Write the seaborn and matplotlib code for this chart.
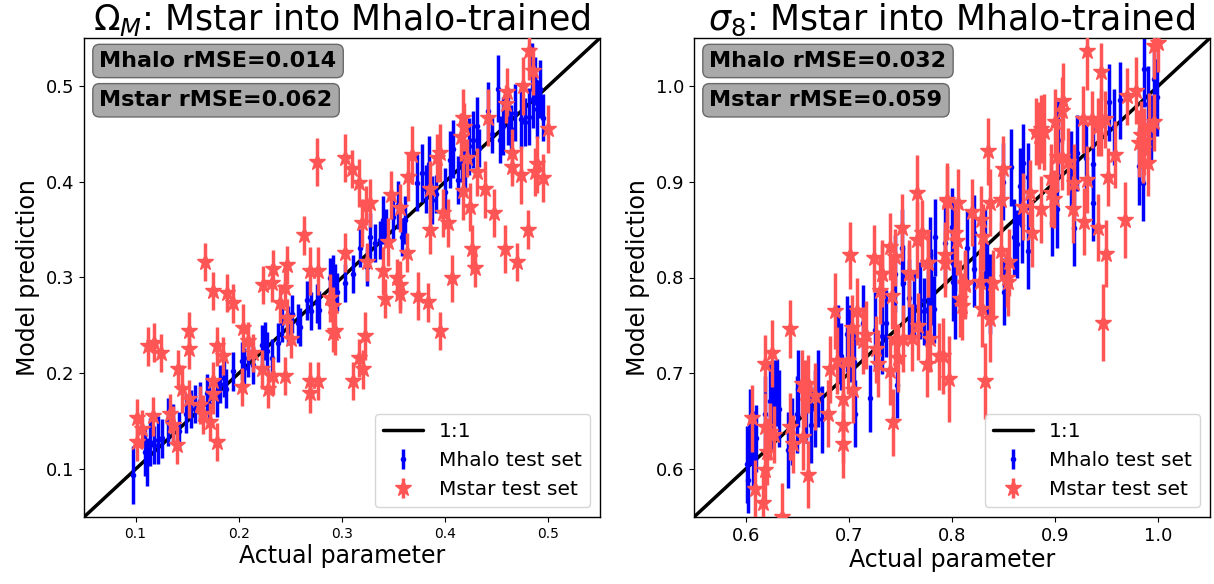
import matplotlib
matplotlib.use("Agg")
import matplotlib.pyplot as plt
import seaborn as sns

# (actual, predicted, error)
om_halo = [
    (0.097, 0.094, 0.03), (0.109, 0.118, 0.025), (0.111, 0.107, 0.025), (0.114, 0.128, 0.025), (0.118, 0.125, 0.02),
    (0.122, 0.130, 0.025), (0.126, 0.132, 0.02), (0.131, 0.149, 0.025), (0.136, 0.148, 0.02), (0.142, 0.140, 0.02),
    (0.149, 0.158, 0.02), (0.154, 0.163, 0.02), (0.158, 0.168, 0.02), (0.162, 0.171, 0.02), (0.169, 0.179, 0.02),
    (0.171, 0.168, 0.02), (0.179, 0.174, 0.02), (0.182, 0.189, 0.02), (0.186, 0.195, 0.02), (0.188, 0.184, 0.02),
    (0.194, 0.202, 0.02), (0.203, 0.213, 0.02), (0.205, 0.206, 0.02), (0.209, 0.216, 0.02), (0.214, 0.209, 0.02),
    (0.222, 0.230, 0.02), (0.225, 0.234, 0.02), (0.227, 0.223, 0.02), (0.232, 0.216, 0.02), (0.238, 0.232, 0.02),
    (0.242, 0.253, 0.02), (0.248, 0.250, 0.02), (0.252, 0.262, 0.02), (0.257, 0.252, 0.02), (0.259, 0.248, 0.02),
    (0.266, 0.276, 0.02), (0.270, 0.265, 0.02), (0.276, 0.273, 0.02), (0.278, 0.266, 0.02), (0.288, 0.300, 0.02),
    (0.290, 0.288, 0.02), (0.293, 0.294, 0.02), (0.295, 0.285, 0.02), (0.291, 0.304, 0.02), (0.303, 0.294, 0.02),
    (0.311, 0.304, 0.02), (0.317, 0.331, 0.02), (0.324, 0.311, 0.02), (0.327, 0.342, 0.025), (0.332, 0.336, 0.02),
    (0.337, 0.339, 0.02), (0.340, 0.360, 0.025), (0.343, 0.352, 0.02), (0.349, 0.363, 0.025), (0.354, 0.376, 0.025),
    (0.358, 0.342, 0.02), (0.361, 0.360, 0.025), (0.373, 0.399, 0.03), (0.378, 0.409, 0.03), (0.381, 0.392, 0.025),
    (0.384, 0.418, 0.03), (0.387, 0.381, 0.025), (0.391, 0.387, 0.02), (0.400, 0.389, 0.025), (0.405, 0.423, 0.03),
    (0.408, 0.434, 0.03), (0.412, 0.402, 0.025), (0.416, 0.420, 0.02), (0.419, 0.416, 0.025), (0.423, 0.437, 0.03),
    (0.427, 0.444, 0.03), (0.431, 0.458, 0.03), (0.433, 0.435, 0.02), (0.441, 0.474, 0.03), (0.445, 0.450, 0.02),
    (0.451, 0.497, 0.035), (0.453, 0.444, 0.025), (0.456, 0.458, 0.03), (0.461, 0.468, 0.03), (0.464, 0.455, 0.025),
    (0.468, 0.472, 0.03), (0.473, 0.465, 0.03), (0.477, 0.462, 0.025), (0.481, 0.468, 0.03), (0.484, 0.520, 0.025),
    (0.485, 0.486, 0.03), (0.489, 0.476, 0.03), (0.492, 0.497, 0.03), (0.495, 0.467, 0.025), (0.487, 0.505, 0.025),
]

om_star = [
    (0.481, 0.536, 0.03), (0.485, 0.516, 0.025), (0.475, 0.500, 0.03), (0.460, 0.494, 0.025), (0.459, 0.481, 0.02),
    (0.500, 0.455, 0.025), (0.441, 0.467, 0.03), (0.417, 0.467, 0.03), (0.418, 0.457, 0.025), (0.415, 0.447, 0.025),
    (0.465, 0.430, 0.025), (0.465, 0.415, 0.02), (0.473, 0.407, 0.03), (0.489, 0.418, 0.03), (0.487, 0.410, 0.025),
    (0.495, 0.404, 0.025), (0.395, 0.430, 0.03), (0.392, 0.425, 0.025), (0.368, 0.428, 0.03), (0.364, 0.405, 0.025),
    (0.347, 0.386, 0.025), (0.356, 0.373, 0.025), (0.327, 0.378, 0.025), (0.323, 0.375, 0.02), (0.319, 0.357, 0.025),
    (0.303, 0.425, 0.025), (0.310, 0.413, 0.02), (0.316, 0.399, 0.025), (0.303, 0.326, 0.02), (0.324, 0.316, 0.02),
    (0.340, 0.307, 0.025), (0.345, 0.337, 0.025), (0.363, 0.326, 0.02), (0.385, 0.350, 0.025), (0.398, 0.367, 0.025),
    (0.403, 0.357, 0.025), (0.385, 0.392, 0.03), (0.417, 0.390, 0.03), (0.424, 0.374, 0.025), (0.439, 0.392, 0.03),
    (0.431, 0.410, 0.025), (0.421, 0.425, 0.02), (0.447, 0.367, 0.025), (0.426, 0.330, 0.025), (0.429, 0.310, 0.02),
    (0.458, 0.330, 0.025), (0.470, 0.316, 0.02), (0.480, 0.350, 0.02), (0.407, 0.299, 0.025), (0.353, 0.299, 0.02),
    (0.342, 0.278, 0.02), (0.356, 0.292, 0.025), (0.356, 0.283, 0.02), (0.374, 0.281, 0.025), (0.383, 0.274, 0.02),
    (0.395, 0.244, 0.02), (0.293, 0.244, 0.025), (0.291, 0.270, 0.02), (0.322, 0.239, 0.025), (0.316, 0.216, 0.02),
    (0.320, 0.204, 0.02), (0.311, 0.192, 0.02), (0.276, 0.421, 0.025), (0.263, 0.344, 0.02),
    (0.167, 0.316, 0.02), (0.112, 0.228, 0.02), (0.118, 0.232, 0.02), (0.125, 0.221, 0.02), (0.141, 0.204, 0.02),
    (0.145, 0.184, 0.025), (0.152, 0.244, 0.02), (0.152, 0.225, 0.02), (0.175, 0.286, 0.02), (0.189, 0.284, 0.02),
    (0.194, 0.273, 0.02), (0.204, 0.247, 0.025), (0.179, 0.228, 0.02), (0.185, 0.218, 0.02), (0.209, 0.234, 0.02),
    (0.214, 0.221, 0.02), (0.223, 0.292, 0.02), (0.232, 0.294, 0.02), (0.233, 0.309, 0.02), (0.247, 0.313, 0.02),
    (0.245, 0.289, 0.02), (0.240, 0.273, 0.02), (0.269, 0.307, 0.025), (0.277, 0.307, 0.025), (0.247, 0.258, 0.02),
    (0.251, 0.236, 0.02), (0.222, 0.204, 0.02), (0.233, 0.197, 0.02), (0.228, 0.184, 0.02), (0.245, 0.197, 0.02),
    (0.269, 0.192, 0.02), (0.277, 0.192, 0.02), (0.269, 0.179, 0.02), (0.291, 0.242, 0.02), (0.288, 0.279, 0.025),
    (0.203, 0.186, 0.02), (0.175, 0.192, 0.02), (0.175, 0.178, 0.02), (0.162, 0.167, 0.02), (0.165, 0.157, 0.02),
    (0.172, 0.149, 0.02), (0.179, 0.128, 0.02), (0.152, 0.173, 0.02), (0.140, 0.125, 0.02), (0.133, 0.158, 0.02),
    (0.136, 0.146, 0.02), (0.117, 0.155, 0.02), (0.101, 0.153, 0.02), (0.106, 0.142, 0.02), (0.101, 0.128, 0.02),
]

s8_halo = [
    (0.601, 0.605, 0.04), (0.602, 0.589, 0.035), (0.604, 0.644, 0.04), (0.607, 0.621, 0.04), (0.610, 0.632, 0.035),
    (0.619, 0.657, 0.04), (0.624, 0.671, 0.04), (0.625, 0.655, 0.035), (0.628, 0.674, 0.04), (0.632, 0.663, 0.04),
    (0.630, 0.680, 0.035), (0.641, 0.620, 0.04), (0.645, 0.639, 0.035), (0.650, 0.657, 0.04), (0.651, 0.684, 0.04),
    (0.659, 0.667, 0.04), (0.663, 0.646, 0.04), (0.667, 0.663, 0.04), (0.670, 0.684, 0.04), (0.674, 0.652, 0.035),
    (0.690, 0.731, 0.04), (0.692, 0.718, 0.035), (0.698, 0.741, 0.04), (0.701, 0.731, 0.04), (0.705, 0.712, 0.035),
    (0.706, 0.658, 0.035), (0.714, 0.752, 0.04), (0.721, 0.674, 0.035), (0.725, 0.745, 0.04), (0.732, 0.739, 0.04),
    (0.736, 0.752, 0.035), (0.745, 0.804, 0.04), (0.747, 0.688, 0.035), (0.758, 0.779, 0.04), (0.763, 0.770, 0.035),
    (0.769, 0.776, 0.04), (0.773, 0.765, 0.035), (0.777, 0.767, 0.04), (0.783, 0.767, 0.035), (0.780, 0.790, 0.04),
    (0.753, 0.794, 0.04), (0.752, 0.831, 0.04), (0.779, 0.823, 0.04), (0.784, 0.842, 0.04), (0.793, 0.836, 0.04),
    (0.849, 0.900, 0.04), (0.857, 0.915, 0.04), (0.866, 0.895, 0.04), (0.869, 0.920, 0.04), (0.874, 0.905, 0.035),
    (0.868, 0.855, 0.04), (0.874, 0.828, 0.04), (0.903, 0.944, 0.04), (0.902, 0.871, 0.04), (0.897, 0.857, 0.035),
    (0.915, 0.913, 0.04), (0.918, 0.852, 0.04), (0.921, 0.930, 0.04), (0.930, 0.925, 0.035), (0.937, 0.918, 0.04),
    (0.937, 0.878, 0.04), (0.952, 0.983, 0.04), (0.957, 0.957, 0.04), (0.963, 0.985, 0.04), (0.981, 0.916, 0.04),
    (0.985, 0.899, 0.04), (0.986, 1.018, 0.04), (0.990, 0.981, 0.04), (0.996, 1.007, 0.04), (0.999, 0.988, 0.04),
    (0.993, 0.955, 0.035), (0.821, 0.846, 0.04), (0.815, 0.831, 0.04), (0.800, 0.853, 0.04), (0.803, 0.826, 0.04),
    (0.821, 0.809, 0.04), (0.832, 0.831, 0.04), (0.834, 0.797, 0.04), (0.837, 0.790, 0.035), (0.860, 0.842, 0.04),
    (0.863, 0.835, 0.035), (0.801, 0.795, 0.04), (0.803, 0.776, 0.04), (0.837, 0.781, 0.04), (0.850, 0.785, 0.035),
]

s8_star = [
    (0.701, 0.823, 0.035), (0.724, 0.820, 0.035), (0.732, 0.804, 0.03), (0.740, 0.832, 0.035), (0.745, 0.821, 0.03),
    (0.752, 0.852, 0.035), (0.758, 0.805, 0.03), (0.766, 0.888, 0.04), (0.766, 0.839, 0.04), (0.771, 0.846, 0.035),
    (0.777, 0.815, 0.035), (0.793, 0.823, 0.035), (0.795, 0.879, 0.04),
    (0.931, 1.036, 0.04), (0.944, 1.015, 0.03), (0.996, 1.042, 0.035), (1.000, 1.045, 0.03), (0.978, 0.995, 0.035),
    (0.970, 0.989, 0.03), (0.908, 0.984, 0.04), (0.907, 0.974, 0.035), (0.900, 0.962, 0.035), (0.886, 0.955, 0.035),
    (0.881, 0.952, 0.035), (0.889, 0.952, 0.04), (0.884, 0.948, 0.035), (0.927, 0.965, 0.035), (0.936, 0.965, 0.03),
    (0.944, 0.962, 0.035), (0.948, 0.965, 0.03), (0.941, 0.957, 0.03), (0.835, 0.932, 0.035), (0.849, 0.913, 0.035),
    (0.902, 0.926, 0.035), (0.907, 0.926, 0.035), (0.912, 0.921, 0.035), (0.918, 0.899, 0.04), (0.931, 0.902, 0.035),
    (0.958, 0.928, 0.035), (0.951, 0.905, 0.03), (0.983, 0.949, 0.035), (0.986, 0.942, 0.035), (0.991, 0.958, 0.035),
    (0.996, 0.962, 0.03), (0.981, 0.940, 0.035), (0.985, 0.934, 0.035), (0.990, 0.920, 0.035), (0.896, 0.904, 0.035),
    (0.876, 0.888, 0.035), (0.896, 0.888, 0.035), (0.899, 0.882, 0.03), (0.886, 0.871, 0.035), (0.917, 0.871, 0.035),
    (0.928, 0.858, 0.035), (0.941, 0.852, 0.035), (0.968, 0.860, 0.04), (0.949, 0.825, 0.035), (0.878, 0.846, 0.035),
    (0.869, 0.874, 0.035), (0.847, 0.881, 0.035), (0.837, 0.878, 0.035), (0.828, 0.860, 0.035), (0.830, 0.842, 0.035),
    (0.847, 0.828, 0.03), (0.855, 0.816, 0.035), (0.853, 0.799, 0.03), (0.840, 0.794, 0.035), (0.795, 0.881, 0.035),
    (0.806, 0.878, 0.035), (0.819, 0.868, 0.035), (0.803, 0.846, 0.035), (0.805, 0.838, 0.035), (0.793, 0.815, 0.035),
    (0.813, 0.794, 0.035), (0.946, 0.753, 0.04), (0.797, 0.694, 0.045), (0.832, 0.692, 0.04), (0.791, 0.718, 0.04),
    (0.808, 0.778, 0.04), (0.810, 0.770, 0.035), (0.829, 0.767, 0.04), (0.837, 0.757, 0.045), (0.813, 0.792, 0.035),
    (0.827, 0.795, 0.035), (0.854, 0.795, 0.035),
    (0.643, 0.746, 0.03), (0.619, 0.710, 0.03), (0.626, 0.721, 0.035), (0.606, 0.653, 0.035), (0.619, 0.644, 0.035),
    (0.624, 0.639, 0.03), (0.628, 0.636, 0.03), (0.621, 0.618, 0.035), (0.619, 0.599, 0.035), (0.609, 0.579, 0.03),
    (0.617, 0.565, 0.035), (0.635, 0.550, 0.035), (0.643, 0.644, 0.035), (0.646, 0.626, 0.03), (0.656, 0.634, 0.035),
    (0.660, 0.594, 0.035), (0.655, 0.689, 0.035), (0.660, 0.689, 0.03), (0.658, 0.679, 0.035), (0.667, 0.676, 0.035),
    (0.680, 0.658, 0.035), (0.682, 0.704, 0.035), (0.687, 0.765, 0.04), (0.689, 0.713, 0.035), (0.694, 0.673, 0.04),
    (0.694, 0.646, 0.04), (0.694, 0.626, 0.035), (0.704, 0.683, 0.035), (0.699, 0.713, 0.035), (0.703, 0.747, 0.035),
    (0.708, 0.765, 0.035), (0.714, 0.734, 0.035), (0.717, 0.740, 0.035), (0.726, 0.725, 0.035), (0.728, 0.710, 0.035),
    (0.732, 0.804, 0.035), (0.730, 0.786, 0.035), (0.740, 0.702, 0.035), (0.742, 0.781, 0.035), (0.743, 0.649, 0.035),
    (0.748, 0.716, 0.035), (0.745, 0.736, 0.035), (0.753, 0.736, 0.035), (0.758, 0.804, 0.035), (0.761, 0.737, 0.035),
    (0.767, 0.749, 0.035), (0.776, 0.710, 0.035), (0.779, 0.736, 0.035), (0.787, 0.718, 0.035), (0.777, 0.815, 0.035),
]

titles = [r"$\Omega_M$: Mstar into Mhalo-trained", r"$\sigma_8$: Mstar into Mhalo-trained"]
halo_rmse = ["0.014", "0.032"]
star_rmse = ["0.062", "0.059"]
limits = [(0.05, 0.55), (0.55, 1.05)]

sns.set_style("ticks")
# plain black text like matplotlib defaults
plt.rcParams.update({"text.color": "black", "axes.labelcolor": "black",
                     "xtick.color": "black", "ytick.color": "black"})

fig = plt.figure(figsize=(12.14, 5.84), dpi=100)
ax1 = fig.add_axes([84 / 1214, 67 / 584, 516 / 1214, 479 / 584])
ax2 = fig.add_axes([694 / 1214, 67 / 584, 516 / 1214, 479 / 584])

panels = [(ax1, om_halo, om_star), (ax2, s8_halo, s8_star)]
for i, (ax, halo, star) in enumerate(panels):
    lo, hi = limits[i]
    # 1:1 line
    sns.lineplot(x=[0, 2], y=[0, 2], color="black", linewidth=2.5, label="1:1", ax=ax, zorder=1)

    hx, hy, he = zip(*halo)
    ax.errorbar(hx, hy, yerr=he, fmt="o", color="blue", markersize=3, elinewidth=2.5,
                label="Mhalo test set", zorder=2)
    sx, sy, se = zip(*star)
    ax.errorbar(sx, sy, yerr=se, fmt="*", color="#ff5555", markersize=12, elinewidth=2.5,
                label="Mstar test set", zorder=3)

    ax.set_xlim(lo, hi)
    ax.set_ylim(lo, hi)
    ax.set_title(titles[i], fontsize=25, color="black")
    ax.set_xlabel("Actual parameter", fontsize=17, labelpad=2)
    ax.set_ylabel("Model prediction", fontsize=17)
    ax.tick_params(axis="y", labelsize=13)
    ax.tick_params(axis="x", labelsize=10 if i == 0 else 13)
    for s in ax.spines.values():
        s.set_linewidth(1.0)
        s.set_color("black")

    box = dict(boxstyle="round,pad=0.3", facecolor="darkgray", edgecolor="dimgray")
    ax.text(0.03, 0.952, f"Mhalo rMSE={halo_rmse[i]}", transform=ax.transAxes, fontsize=16,
            fontweight="bold", va="center", color="black", bbox=box)
    ax.text(0.03, 0.870, f"Mstar rMSE={star_rmse[i]}", transform=ax.transAxes, fontsize=16,
            fontweight="bold", va="center", color="black", bbox=box)

    leg = ax.legend(loc="lower right", fontsize=14.5)
    for t in leg.get_texts():
        t.set_color("black")

fig.savefig("out.png", dpi=100)
